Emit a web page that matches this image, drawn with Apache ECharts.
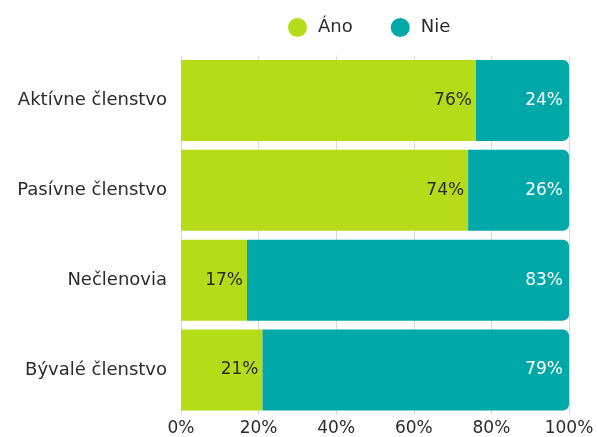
<!DOCTYPE html>
<html>
<head>
<meta charset="utf-8">
<script src="https://cdn.jsdelivr.net/npm/echarts@6/dist/echarts.min.js"></script>
<style>
  html, body { margin: 0; padding: 0; background: #fff; }
  #chart { width: 597px; height: 437px; }
</style>
</head>
<body>
<div id="chart"></div>
<script>
const categories = ['Aktívne členstvo', 'Pasívne členstvo', 'Nečlenovia', 'Bývalé členstvo']
const anoValues = [76, 74, 17, 21]
const nieValues = [24, 26, 83, 79]
const xTicks = [0, 20, 40, 60, 80, 100]

const font = '"DejaVu Sans", sans-serif'
const textColor = '#2b2b2b'
const chart = echarts.init(document.getElementById('chart'))

chart.setOption({
  textStyle: { fontFamily: font },
  legend: {
    top: 13,
    left: 283,
    itemGap: 38,
    icon: 'circle',
    itemWidth: 19,
    itemHeight: 19,
    textStyle: { fontSize: 18, color: textColor, fontFamily: font, padding: [0, 0, 0, 6] }
  },
  grid: { top: 55.5, bottom: 20.5, left: 181, right: 28 },
  xAxis: {
    type: 'value',
    min: xTicks[0],
    max: xTicks[xTicks.length - 1],
    interval: 20,
    axisLabel: { formatter: '{value}%', fontSize: 17, color: textColor, fontFamily: font, margin: 5 },
    axisLine: { show: false },
    axisTick: { show: false },
    splitLine: { lineStyle: { color: '#d9d9d9' } }
  },
  yAxis: {
    type: 'category',
    data: categories,
    inverse: true,
    axisLabel: { fontSize: 18, color: textColor, fontFamily: font, margin: 14 },
    axisLine: { show: false },
    axisTick: { show: false }
  },
  series: [
    {
      name: 'Áno',
      type: 'bar',
      stack: 'total',
      data: anoValues,
      barCategoryGap: '10%',
      itemStyle: { color: '#b6dc19' },
      label: {
        show: true, position: 'insideRight', formatter: '{c}%',
        color: textColor, fontSize: 17, fontFamily: font, distance: 4
      }
    },
    {
      name: 'Nie',
      type: 'bar',
      stack: 'total',
      data: nieValues,
      barCategoryGap: '10%',
      itemStyle: { color: '#00a8a8', borderRadius: [0, 6, 6, 0] },
      label: {
        show: true, position: 'insideRight', formatter: '{c}%',
        color: '#fff', fontSize: 17, fontFamily: font, distance: 6
      }
    }
  ]
})
</script>
</body>
</html>
